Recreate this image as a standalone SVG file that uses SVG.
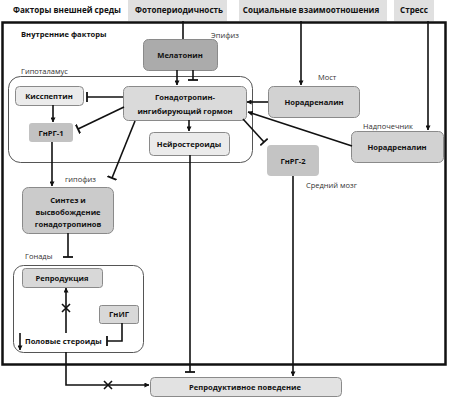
<svg xmlns="http://www.w3.org/2000/svg" width="449" height="400" viewBox="0 0 449 400">
<style>
text{font-family:"Open Sans","DejaVu Sans",sans-serif;fill:#111}
.b{font-weight:bold;font-size:7.6px}
.h{font-weight:bold;font-size:8.1px}
.l{font-size:7.5px;fill:#333}
.box{stroke:#8a8a8a;stroke-width:1}
.c{stroke:#111;stroke-width:1.6;fill:none}
.grp{fill:none;stroke:#555;stroke-width:1}
</style>
<defs>
<marker id="a" viewBox="0 0 6 6" refX="5.5" refY="3" markerWidth="5" markerHeight="5" orient="auto" markerUnits="userSpaceOnUse"><path d="M0,0L6,3L0,6z" fill="#111"/></marker>
<marker id="t" viewBox="0 0 4 10" refX="2" refY="5" markerWidth="4" markerHeight="10" orient="auto" markerUnits="userSpaceOnUse"><path d="M2,0V10" stroke="#111" stroke-width="1.8"/></marker>
</defs>
<rect width="449" height="400" fill="#fff"/>
<text class="h" x="13" y="13">Факторы внешней среды</text>
<g id="photo"><rect x="128" y="0" width="99" height="21" fill="#e0e0e0"/><text class="h" x="179" y="13" text-anchor="middle">Фотопериодичность</text></g>
<g id="social"><rect x="239" y="0" width="148" height="21" fill="#e0e0e0"/><text class="h" x="311" y="13" text-anchor="middle">Социальные взаимоотношения</text></g>
<g id="stress"><rect x="394" y="0" width="40" height="21" fill="#e0e0e0"/><text class="h" x="414" y="13" text-anchor="middle">Стресс</text></g>
<rect x="2.5" y="22.5" width="443" height="342" fill="none" stroke="#111" stroke-width="2.5"/>
<text class="b" x="21" y="37">Внутренние факторы</text>
<text class="l" x="211" y="38">Эпифиз</text>
<text class="l" x="21" y="74">Гипоталамус</text>
<text class="l" x="318" y="80">Мост</text>
<text class="l" x="363" y="129">Надпочечник</text>
<text class="l" x="306" y="188">Средний мозг</text>
<text class="l" x="65" y="182">гипофиз</text>
<text class="l" x="25" y="259">Гонады</text>
<rect class="grp" x="8.5" y="76.5" width="244" height="86" rx="12"/>
<rect class="grp" x="13.5" y="265.5" width="130" height="87" rx="10"/>
<g id="melatonin"><rect class="box" x="143.5" y="39.5" width="74" height="31" rx="5" fill="#ababab"/><text class="b" x="180" y="58" text-anchor="middle">Мелатонин</text></g>
<g id="gih"><rect class="box" x="123.5" y="86.5" width="123" height="34" rx="5" fill="#dadada"/><text class="b" x="185" y="100" text-anchor="middle">Гонадотропин-</text><text class="b" x="185" y="114" text-anchor="middle">ингибирующий гормон</text></g>
<g id="kiss"><rect class="box" x="15.5" y="86.5" width="68" height="19" rx="4" fill="#ebebeb"/><text class="b" x="49" y="99" text-anchor="middle">Кисспептин</text></g>
<g id="gnrh1"><rect x="29" y="123" width="44" height="19" rx="3" fill="#c2c2c2"/><text class="b" x="51" y="136" text-anchor="middle">ГнРГ-1</text></g>
<g id="neuro"><rect class="box" x="149.5" y="132.5" width="80" height="23" rx="4" fill="#ebebeb"/><text class="b" x="189" y="147" text-anchor="middle">Нейростероиды</text></g>
<g id="nor1"><rect class="box" x="268.5" y="86.5" width="91" height="31" rx="5" fill="#d2d2d2"/><text class="b" x="314" y="105" text-anchor="middle">Норадреналин</text></g>
<g id="nor2"><rect class="box" x="351.5" y="131.5" width="92" height="31" rx="5" fill="#d2d2d2"/><text class="b" x="397" y="150" text-anchor="middle">Норадреналин</text></g>
<g id="gnrh2"><rect x="267" y="145" width="52" height="31" rx="4" fill="#c4c4c4"/><text class="b" x="293" y="164" text-anchor="middle">ГнРГ-2</text></g>
<g id="synth"><rect class="box" x="22.5" y="187.5" width="91" height="46" rx="6" fill="#cbcbcb"/><text class="b" x="68" y="203" text-anchor="middle">Синтез и</text><text class="b" x="68" y="215" text-anchor="middle">высвобождение</text><text class="b" x="68" y="227" text-anchor="middle">гонадотропинов</text></g>
<g id="repro"><rect class="box" x="22.5" y="268.5" width="80" height="19" rx="3" fill="#d8d8d8"/><text class="b" x="62" y="281" text-anchor="middle">Репродукция</text></g>
<g id="gnih"><rect class="box" x="99.5" y="305.5" width="39" height="18" rx="2" fill="#d8d8d8"/><text class="b" x="119" y="317" text-anchor="middle">ГнИГ</text></g>
<g id="steroids"><text class="b" x="25" y="344">Половые стероиды</text></g>
<g id="behavior"><rect class="box" x="150.5" y="377.5" width="191" height="19" rx="4" fill="#e2e2e2"/><text class="b" x="245" y="390" text-anchor="middle">Репродуктивное поведение</text></g>
<g id="connectors">
<path class="c" d="M183,21V39"/>
<path class="c" d="M301,21V85" marker-end="url(#a)"/>
<path class="c" d="M428,21V130" marker-end="url(#a)"/>
<path class="c" d="M177,70V85" marker-end="url(#a)"/>
<path class="c" d="M193,70V80" marker-end="url(#t)"/>
<path class="c" d="M268,102H247" marker-end="url(#a)"/>
<path class="c" d="M352,146L248,112" marker-end="url(#a)"/>
<path class="c" d="M243,119L264,142" marker-end="url(#t)"/>
<path class="c" d="M189,120V131" marker-end="url(#a)"/>
<path class="c" d="M123,97H87" marker-end="url(#t)"/>
<path class="c" d="M124,107L78,129" marker-end="url(#t)"/>
<path class="c" d="M135,121L112,178" marker-end="url(#t)"/>
<path class="c" d="M53,105V122" marker-end="url(#a)"/>
<path class="c" d="M52,142V186" marker-end="url(#a)"/>
<path class="c" d="M68,233V257" marker-end="url(#t)"/>
<path class="c" d="M66,333V288" marker-end="url(#a)"/>
<path class="c" d="M62,304L70,312M70,304L62,312"/>
<path class="c" d="M122,323V341H107" marker-end="url(#t)"/>
<path class="c" d="M20,333V350" marker-end="url(#a)"/>
<path class="c" d="M66,352V385H149" marker-end="url(#a)"/>
<path class="c" d="M104,381L112,389M112,381L104,389"/>
<path class="c" d="M190,155V372" marker-end="url(#t)"/>
<path class="c" d="M293,176V376" marker-end="url(#a)"/>
</g>
</svg>
